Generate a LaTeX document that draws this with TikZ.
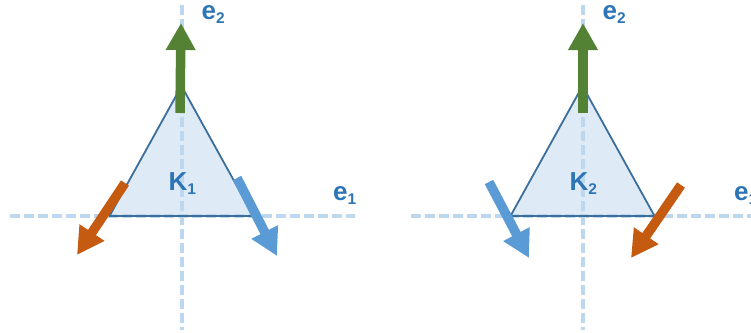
\documentclass[tikz,border=0pt]{standalone}
\usepackage{fontspec}
\setmainfont{Liberation Sans}[BoldFont={Liberation Sans Bold}]
\usetikzlibrary{arrows.meta}

\definecolor{axisblue}{HTML}{BDD7EE}
\definecolor{cellfill}{HTML}{DEEBF7}
\definecolor{celledge}{HTML}{3C6E9C}
\definecolor{labelblue}{HTML}{2E75B6}
\definecolor{vecgreen}{HTML}{548235}
\definecolor{vecorange}{HTML}{C55A11}
\definecolor{vecblue}{HTML}{5B9BD5}

% lowered index, set in the current font
\newcommand{\lowidx}[1]{\raisebox{-4.5pt}{\fontsize{15.5}{15.5}\selectfont #1}}

\begin{document}
\begin{tikzpicture}[x=1pt, y=-1pt,
    % --- Styles ---
    axis line/.style={draw=axisblue, line width=4pt, dash pattern=on 10pt off 4pt},
    cell fill/.style={fill=cellfill},
    cell edge/.style={draw=celledge, line width=1.8pt, line join=round},
    % labels placed by the baseline of their main letter
    axis label/.style={font=\bfseries\fontsize{26}{26}\selectfont, text=labelblue,
        inner sep=0pt, anchor=base west},
    vec/.style={line width=9.5pt, -{Triangle[width=28pt,length=27pt]}}
]

%================CONFIGURATION================
% frame in pixels of the reference
\useasboundingbox (0,0) rectangle (751,332);
\def\ybase{216}
\def\yapex{86}
\def\halfbase{72}
%=============================================

\foreach \n/\ox/\xl/\xr in {1/181.5/10/355, 2/582.5/411/760} {

    % --- 1. Cell corners ---
    \coordinate (A\n) at (\ox, \yapex);
    \coordinate (L\n) at (\ox-\halfbase, \ybase);
    \coordinate (R\n) at (\ox+\halfbase, \ybase);

    % --- 2. Filled cell, axes on top, then the edge ---
    \fill[cell fill] (A\n) -- (L\n) -- (R\n) -- cycle;
    \draw[axis line] (\xl, \ybase) -- (\xr, \ybase);
    \draw[axis line] (\ox, 5) -- (\ox, 330);
    \draw[cell edge] (A\n) -- (L\n) -- (R\n) -- cycle;

    % --- 3. Labels ---
    \node[axis label] (K\n) at (\ox-13, 190) {K\lowidx{\n}};
    \node[axis label] (eii\n) at (\ox+20, 19) {e\lowidx{2}};
    \node[axis label] (ei\n) at (\ox+151.5, 200) {e\lowidx{1}};
}

% --- Vectors, left cell ---
\coordinate (g1s) at (180,113);  \coordinate (g1e) at (181,23);
\coordinate (o1s) at (125,183);  \coordinate (o1e) at (77,255);
\coordinate (b1s) at (237,178);  \coordinate (b1e) at (277,256);
\draw[vec, vecgreen]  (g1s) -- (g1e);
\draw[vec, vecorange] (o1s) -- (o1e);
\draw[vec, vecblue]   (b1s) -- (b1e);

% --- Vectors, right cell ---
\coordinate (g2s) at (583,113);  \coordinate (g2e) at (583,23);
\coordinate (b2s) at (489,182);  \coordinate (b2e) at (529,258);
\coordinate (o2s) at (681,185);  \coordinate (o2e) at (631,258);
\draw[vec, vecgreen]  (g2s) -- (g2e);
\draw[vec, vecblue]   (b2s) -- (b2e);
\draw[vec, vecorange] (o2s) -- (o2e);

\end{tikzpicture}
\end{document}
